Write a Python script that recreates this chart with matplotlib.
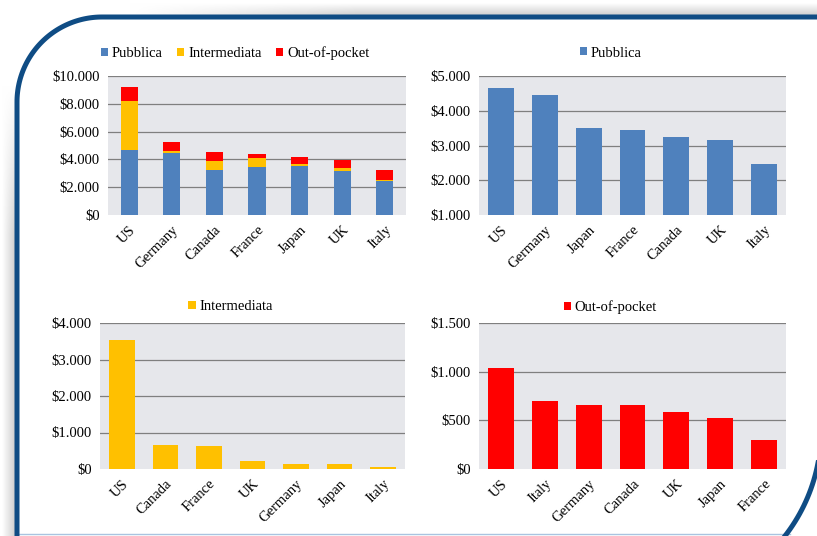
import matplotlib
matplotlib.use('Agg')
import matplotlib.pyplot as plt
import numpy as np
from matplotlib.patches import Patch
from matplotlib.ticker import FuncFormatter

# data (US $ per capita)
countries = ['US', 'Germany', 'Canada', 'France', 'Japan', 'UK', 'Italy']
pubblica = [4663, 4463, 3245, 3455, 3513, 3167, 2459]
intermediata = [3534, 140, 666, 621, 135, 210, 55]
out_of_pocket = [1037, 660, 655, 302, 528, 587, 703]

blue = '#4F81BD'
yellow = '#FFC000'
red = '#FF0000'
plot_bg = '#E6E7EB'
grid_col = '#7F7F7F'
frame_col = '#0F4C84'

plt.rcParams['font.family'] = ['Liberation Serif', 'DejaVu Serif']
plt.rcParams['font.size'] = 10.5

fig = plt.figure(figsize=(8.17, 5.36), dpi=100)
fig.patch.set_facecolor('white')

# decorative frame drawn in pixel coordinates
bg = fig.add_axes([0, 0, 1, 1], zorder=-5)
bg.axis('off')
across = np.linspace(0.0, 0.2, 40)
fade = np.clip(np.linspace(-0.3, 3.0, 200), 0, 1)
left = 1 - np.outer(fade, across)
top = 1 - np.outer(across, fade)
bg.imshow(np.dstack([left] * 3), extent=(2, 16, 536, 40), aspect='auto', zorder=0,
          interpolation='bilinear')
bg.imshow(np.dstack([top] * 3), extent=(60, 817, 16, 3), aspect='auto', zorder=0,
          interpolation='bilinear')
r = 85
th = np.linspace(np.pi, 1.5 * np.pi, 60)
xs = np.concatenate([[17], 17 + r + r * np.cos(th), [830]])
ys = np.concatenate([[540], 17 + r + r * np.sin(th), [17]])
bg.plot(xs, ys, color=frame_col, lw=3.6, solid_capstyle='butt', zorder=2)
th2 = np.linspace(0, 0.5 * np.pi, 60)
bg.plot(np.concatenate([[821], 650 + 171 * np.cos(th2)]),
        np.concatenate([[300], 431 + 171 * np.sin(th2)]), color=frame_col, lw=3.6, zorder=2)
bg.plot([17, 790], [534, 534], color='#A9C4E0', lw=1, zorder=1)
bg.set_xlim(0, 817)
bg.set_ylim(536, 0)


def money(v, pos):
    return '${:,.0f}'.format(v).replace(',', '.')


def style(ax, ymin, ymax, step, labels):
    ax.set_facecolor(plot_bg)
    ax.set_ylim(ymin, ymax)
    ax.set_xlim(-0.5, 6.5)
    ax.set_yticks(np.arange(ymin, ymax + 1, step))
    ax.yaxis.set_major_formatter(FuncFormatter(money))
    for y in np.arange(ymin + step, ymax + 1, step):
        ax.axhline(y, color=grid_col, lw=0.9, zorder=1)
    for s in ax.spines.values():
        s.set_visible(False)
    ax.tick_params(length=0, pad=6)
    ax.set_xticks(range(len(labels)))
    ax.set_xticklabels(labels, rotation=45, ha='right', rotation_mode='anchor')


def legend(ax, items, gap, width):
    handles = [Patch(facecolor=c, label=l) for l, c in items]
    ax.legend(handles=handles, loc='center', bbox_to_anchor=(0.5 - 22 / width, 1 + gap),
              ncol=3, frameon=False, handlelength=0.5, handleheight=0.5, handletextpad=0.25,
              columnspacing=1.0, borderaxespad=0, borderpad=0)


# stacked chart
ax1 = fig.add_axes([108 / 817, 1 - 215 / 536, 298 / 817, 139 / 536])
x = np.arange(len(countries))
p = np.array(pubblica)
im = np.array(intermediata)
oop = np.array(out_of_pocket)
ax1.bar(x, p, width=0.4, color=blue, zorder=2)
ax1.bar(x, im, bottom=p, width=0.4, color=yellow, zorder=2)
ax1.bar(x, oop, bottom=p + im, width=0.4, color=red, zorder=2)
style(ax1, 0, 10000, 2000, countries)
legend(ax1, [('Pubblica', blue), ('Intermediata', yellow), ('Out-of-pocket', red)],
       23 / 139, 298)


def sorted_panel(rect, values, color, name, ymin, ymax, step, gap):
    ax = fig.add_axes(rect)
    v = np.array(values)
    order = np.argsort(-v, kind='stable')
    labels = [countries[i] for i in order]
    ax.bar(np.arange(len(v)), v[order], width=0.59, color=color, zorder=2)
    style(ax, ymin, ymax, step, labels)
    legend(ax, [(name, color)], gap, rect[2] * 817)
    return ax


sorted_panel([479 / 817, 1 - 215 / 536, 307 / 817, 139 / 536], pubblica, blue,
             'Pubblica', 1000, 5000, 1000, 23 / 139)
sorted_panel([100 / 817, 1 - 469 / 536, 305 / 817, 146 / 536], intermediata, yellow,
             'Intermediata', 0, 4000, 1000, 16 / 146)
sorted_panel([479 / 817, 1 - 469 / 536, 307 / 817, 146 / 536], out_of_pocket, red,
             'Out-of-pocket', 0, 1500, 500, 16 / 146)

fig.savefig('out.png', dpi=100)
